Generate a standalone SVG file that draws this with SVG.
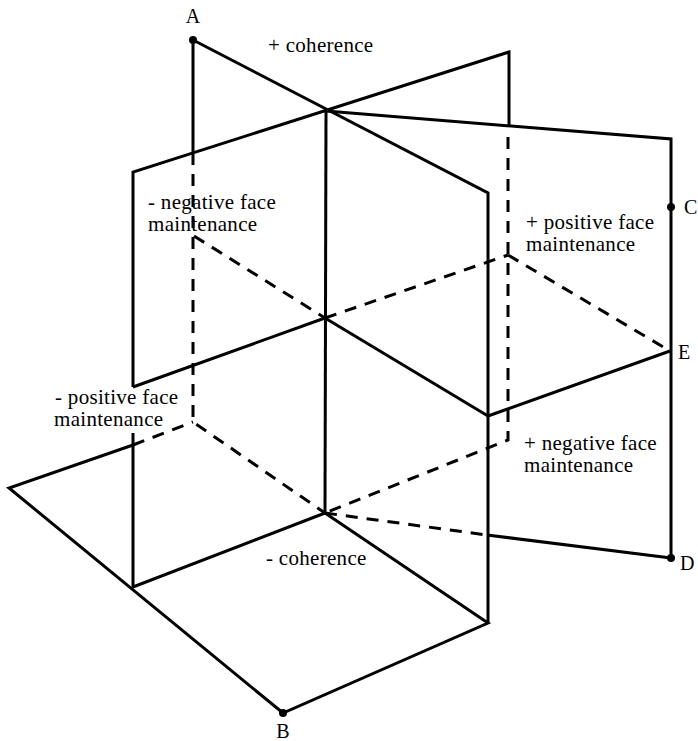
<svg xmlns="http://www.w3.org/2000/svg" width="698" height="741" viewBox="0 0 698 741">
<style>
.s{fill:none;stroke:#000;stroke-width:3;stroke-linejoin:miter;stroke-linecap:butt}
.d{fill:none;stroke:#000;stroke-width:3;stroke-dasharray:12 9}
.t{font-family:"Liberation Serif","Times New Roman",serif;font-size:21px;letter-spacing:0.3px;fill:#000}
.l{font-family:"Liberation Serif","Times New Roman",serif;font-size:20px;fill:#000}
</style>
<rect width="698" height="741" fill="#fff"/>
<g id="plane-v">
<path class="s" d="M193,40 L488,193 L488,623"/>
<path class="s" d="M193,40 V153"/>
<path class="d" d="M193,153 V422 L325,513"/>
<path class="d" d="M194,236 L325,318"/>
<path class="s" d="M325,318 L488,416"/>
</g>
<g id="plane-u">
<path class="s" d="M133,387 V172 L509,52 V125"/>
<path class="d" d="M508,137 V440 L325,513"/>
<path class="s" d="M133,387 L325,318"/>
<path class="d" d="M325,318 L508,255"/>
<path class="s" d="M133,433 V587 L325,513"/>
</g>
<g id="axis">
<path class="s" d="M326,111 L325,513"/>
</g>
<g id="plane-w">
<path class="s" d="M326,111 L671,139 L671,558"/>
<path class="d" d="M325,513 L487,535"/>
<path class="s" d="M487,535 L671,558"/>
</g>
<g id="quadrant-e">
<path class="d" d="M508,255 L670,351"/>
<path class="s" d="M488,416 L670,351"/>
</g>
<g id="plane-bottom">
<path class="s" d="M133,445 L9,488 L283,713 L488,623 L325,513"/>
<path class="d" d="M133,445 L193,422"/>
</g>
<g id="points">
<circle cx="193" cy="40" r="4"/>
<circle cx="671" cy="207" r="4"/>
<circle cx="671" cy="558" r="4"/>
<circle cx="283" cy="713" r="4"/>
</g>
<g id="labels">
<text class="l" x="193" y="23" text-anchor="middle">A</text>
<text class="l" x="283" y="738" text-anchor="middle">B</text>
<text class="l" x="684" y="214">C</text>
<text class="l" x="678" y="359">E</text>
<text class="l" x="680" y="570">D</text>
<text class="t" x="268" y="52">+ coherence</text>
<text class="t" x="266" y="565">- coherence</text>
<text class="t" x="148" y="209">- negative face</text>
<text class="t" x="148" y="231">maintenance</text>
<text class="t" x="526" y="229">+ positive face</text>
<text class="t" x="526" y="251">maintenance</text>
<text class="t" x="55" y="404">- positive face</text>
<text class="t" x="54" y="426">maintenance</text>
<text class="t" x="524" y="450">+ negative face</text>
<text class="t" x="524" y="472">maintenance</text>
</g>
</svg>
